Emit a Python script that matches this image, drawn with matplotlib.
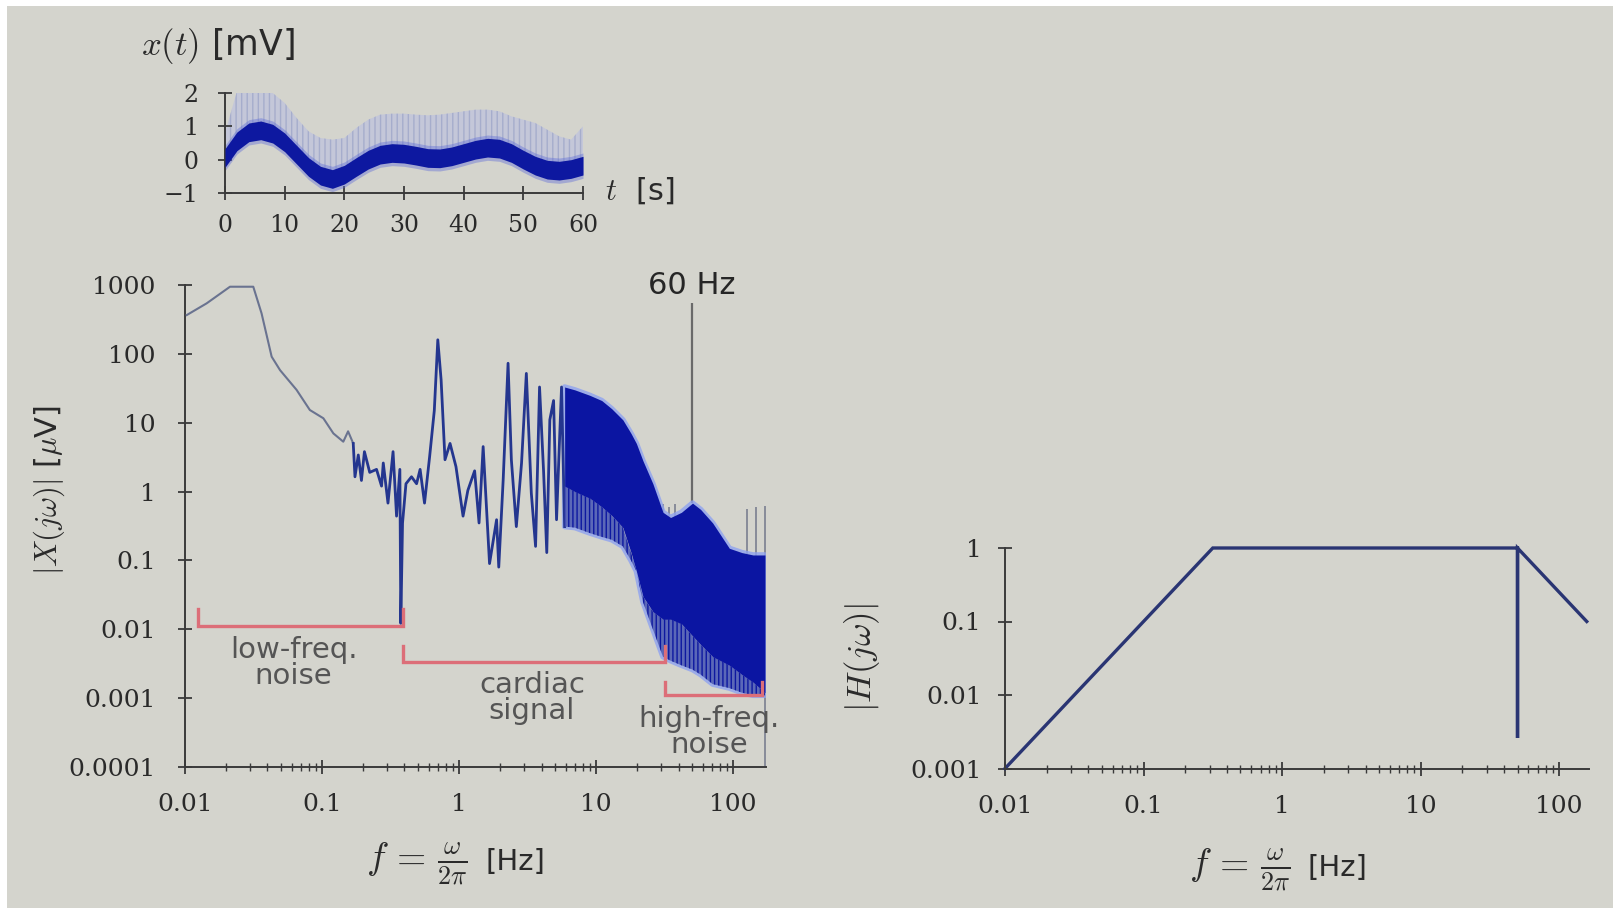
import numpy as np
import matplotlib
matplotlib.use('Agg')
import matplotlib.pyplot as plt
from matplotlib.ticker import LogLocator, NullFormatter, NullLocator
from matplotlib.patches import Rectangle

plt.rcParams['mathtext.fontset'] = 'cm'
plt.rcParams['font.family'] = ['DejaVu Sans']
plt.rcParams['hatch.linewidth'] = 1.0

# ---------------- data: ECG trace (top) ----------------
ecg_t = [0, 2, 4, 6, 8, 10, 12, 14, 16, 18, 20, 22, 24, 26, 28, 30,
         32, 34, 36, 38, 40, 42, 44, 46, 48, 50, 52, 54, 56, 58, 60]
ecg_base = [0.05, 0.55, 0.82, 0.88, 0.78, 0.52, 0.15, -0.22, -0.48, -0.58, -0.45,
            -0.22, 0.0, 0.15, 0.2, 0.18, 0.12, 0.05, 0.04, 0.1, 0.2, 0.3, 0.36,
            0.33, 0.2, 0.0, -0.18, -0.3, -0.33, -0.28, -0.18]
ecg_peak = [0.8, 2.05, 2.15, 2.15, 2.0, 1.7, 1.25, 0.85, 0.65, 0.6, 0.65, 0.95,
            1.2, 1.35, 1.38, 1.38, 1.35, 1.33, 1.35, 1.4, 1.45, 1.5, 1.5, 1.45,
            1.3, 1.2, 1.1, 0.9, 0.7, 0.6, 1.0]
t_ticks = [0, 10, 20, 30, 40, 50, 60]
x_ticks = [-1, 0, 1, 2]
x_ticklabels = ['\u22121', '0', '1', '2']

# ---------------- data: spectrum |X(jw)| ----------------
lf_f = [0.0103, 0.0144, 0.0213, 0.0315, 0.0362, 0.0429, 0.0494, 0.0652, 0.0815,
        0.1023, 0.121, 0.143, 0.155, 0.169]
lf_mag = [366, 542, 944, 944, 388, 91, 58, 30, 15.3, 11.6, 7.0, 5.3, 7.5, 5.0]

mid_f = [0.169, 0.174, 0.184, 0.194, 0.204, 0.223, 0.25, 0.272, 0.28, 0.303, 0.33,
         0.35, 0.37, 0.376, 0.387, 0.41, 0.45, 0.49, 0.52, 0.56, 0.61, 0.66, 0.70,
         0.74, 0.79, 0.86, 0.95, 1.07, 1.16, 1.3, 1.4, 1.5, 1.67, 1.88, 1.95, 2.1,
         2.28, 2.41, 2.62, 2.86, 3.10, 3.37, 3.62, 3.87, 4.14, 4.37, 4.6, 4.9, 5.15,
         5.6, 5.9]
mid_mag = [5.0, 1.64, 3.4, 1.45, 3.8, 1.9, 2.1, 1.2, 2.6, 0.68, 3.8,
           0.44, 2.1, 0.0122, 0.35, 1.3, 1.64, 1.3, 2.1, 0.68, 3.2, 15, 160,
           42, 2.9, 5.0, 2.3, 0.44, 1.04, 2.0, 0.35, 4.5, 0.09, 0.39, 0.08, 1.47,
           73, 2.9, 0.31, 2.6, 52, 0.95, 0.16, 33, 2.0, 0.13, 11, 21, 0.39,
           33, 0.31]

band_f = [5.9, 7, 9, 11, 13, 15.7, 18, 19.7, 22, 26, 30.8, 35, 42, 50.6, 58, 71,
          94, 116, 140, 171]
band_hi = [33, 30, 25, 21, 16, 11, 7, 5, 2.8, 1.3, 0.5, 0.42, 0.5, 0.68, 0.55,
           0.35, 0.15, 0.13, 0.12, 0.12]
band_core = [1.2, 1.0, 0.8, 0.6, 0.45, 0.3, 0.13, 0.07, 0.03, 0.018, 0.014, 0.014,
             0.012, 0.008, 0.006, 0.004, 0.003, 0.0022, 0.0017, 0.0012]
band_lo = [0.31, 0.3, 0.25, 0.22, 0.2, 0.16, 0.1, 0.07, 0.025, 0.01, 0.004, 0.0035,
           0.003, 0.0026, 0.0022, 0.0016, 0.0014, 0.0012, 0.0011, 0.0011]

spike_f = [31, 34, 38, 126, 147, 171]
spike_top = [0.65, 0.6, 0.65, 0.55, 0.6, 0.62]
spike_bot = [0.05, 0.05, 0.05, 0.01, 0.01, 1e-4]

notch_f = 50
notch_line = [0.68, 550]
notch_label = '60 Hz'
notch_label_y = 1000

bracket_left = [0.0125, 0.39, 32]
bracket_right = [0.39, 32, 164]
bracket_base = [0.011, 0.0033, 0.0011]
bracket_top = [0.02, 0.0057, 0.0017]
bracket_text = ['low-freq.\nnoise', 'cardiac\nsignal', 'high-freq.\nnoise']
bracket_text_f = [0.062, 3.4, 67]
bracket_text_y = [0.0032, 0.001, 0.00032]

spec_yticks = [1e-4, 1e-3, 1e-2, 1e-1, 1, 10, 100, 1000]
spec_yticklabels = ['0.0001', '0.001', '0.01', '0.1', '1', '10', '100', '1000']
freq_ticks = [0.01, 0.1, 1, 10, 100]
freq_ticklabels = ['0.01', '0.1', '1', '10', '100']

# ---------------- data: filter |H(jw)| ----------------
H_f = [0.01, 0.316, 50, 50, 50, 158]
H_mag = [0.001, 1, 1, 0.0026, 1, 0.1]
H_yticks = [0.001, 0.01, 0.1, 1]
H_yticklabels = ['0.001', '0.01', '0.1', '1']

# ---------------- figure ----------------
W, Hh = 1613, 910
fig = plt.figure(figsize=(W / 100, Hh / 100), dpi=100, facecolor='white')
fig.patches.append(Rectangle((7 / W, 2 / Hh), 1 - 7 / W, (904 - 2) / Hh,
                             transform=fig.transFigure, facecolor='#d4d4cd',
                             edgecolor='none', zorder=-10))

def ax_px(x0, y0, x1, y1):
    return fig.add_axes([x0 / W, 1 - y1 / Hh, (x1 - x0) / W, (y1 - y0) / Hh])

AXC = '#3a3a3a'
TXT = '#2a2a2a'
SERIF = 'DejaVu Serif'

def style(ax, xpad=14, ypad=12):
    ax.set_facecolor('none')
    for s in ['top', 'right']:
        ax.spines[s].set_visible(False)
    for s in ['left', 'bottom']:
        ax.spines[s].set_color(AXC)
        ax.spines[s].set_linewidth(1.4)
    ax.tick_params(which='both', direction='inout', colors=AXC, labelcolor=TXT)
    ax.tick_params(which='major', length=10, width=1.3)
    ax.tick_params(which='minor', length=6, width=1.0)
    ax.tick_params(axis='x', pad=xpad)
    ax.tick_params(axis='y', pad=ypad)

def flabel(x_right, y, size_math=27):
    fig.text(x_right / W, 1 - (y + 2) / Hh, r'$f\,=\,\frac{\omega}{2\pi}$',
             fontsize=size_math, color=TXT, ha='right', va='center')
    fig.text((x_right + 17) / W, 1 - y / Hh, '[Hz]', fontsize=21, color=TXT,
             ha='left', va='center')

# ---- top: x(t) ----
ax_t = ax_px(225, 93, 583, 193)
style(ax_t, xpad=10, ypad=14)
ax_t.fill_between(ecg_t, ecg_base, ecg_peak, facecolor='#c4c7d9', edgecolor='#a6adcc',
                  hatch='|||', linewidth=0, zorder=1)
ax_t.fill_between(ecg_t, np.array(ecg_base) - 0.38, np.array(ecg_base) + 0.38,
                  color='#5a68d8', alpha=0.4, linewidth=0, zorder=2)
ax_t.fill_between(ecg_t, np.array(ecg_base) - 0.28, np.array(ecg_base) + 0.28,
                  color='#0d18a0', linewidth=0, zorder=3)
ax_t.set_xlim(0, 60)
ax_t.set_ylim(-1, 2)
ax_t.set_xticks(t_ticks, [str(v) for v in t_ticks], fontfamily=SERIF, fontsize=17)
ax_t.set_yticks(x_ticks, x_ticklabels, fontfamily=SERIF, fontsize=17)

fig.text(141 / W, 1 - 46 / Hh, r'$x(t)$ [mV]', fontsize=25, color=TXT,
         ha='left', va='center')
fig.text(605 / W, 1 - 191 / Hh, r'$t$  [s]', fontsize=22, color=TXT,
         ha='left', va='center')

# ---- left: spectrum ----
ax_x = ax_px(185, 285, 766, 767)
style(ax_x, xpad=14, ypad=16)
ax_x.set_xscale('log')
ax_x.set_yscale('log')
ax_x.set_xlim(0.01, 174)
ax_x.set_ylim(1e-4, 1000)

ax_x.vlines(spike_f, spike_bot, spike_top, color='#7a7f90', lw=1.2, zorder=1)
ax_x.vlines(notch_f, notch_line[0], notch_line[1], color='#6a6a6a', lw=1.6, zorder=1)
ax_x.text(notch_f, notch_label_y, notch_label, ha='center', va='center',
          fontsize=22, color='#262626')

ax_x.plot(lf_f, lf_mag, color='#6a7390', lw=1.5, zorder=3)
ax_x.plot(mid_f, mid_mag, color='#24368f', lw=2.0, zorder=3)

ax_x.fill_between(band_f, band_lo, band_hi, facecolor='none', edgecolor='#8fa2f0',
                  linewidth=4, alpha=0.8, zorder=2)
ax_x.fill_between(band_f, band_lo, band_core, facecolor='#5b68b8', edgecolor='#0d18a0',
                  hatch='||||', linewidth=0, zorder=3)
ax_x.fill_between(band_f, band_core, band_hi, color='#0b15a2', linewidth=0, zorder=4)

RED = '#dc6e78'
for fl, fr, yb, yt in zip(bracket_left, bracket_right, bracket_base, bracket_top):
    ax_x.plot([fl, fl, fr, fr], [yt, yb, yb, yt], color=RED, lw=2.4,
              solid_joinstyle='miter', zorder=5)
for s, fx, fy in zip(bracket_text, bracket_text_f, bracket_text_y):
    ax_x.text(fx, fy, s, ha='center', va='center', fontsize=21, color='#555555',
              linespacing=0.9, zorder=6)

ax_x.set_xticks(freq_ticks, freq_ticklabels, fontfamily=SERIF, fontsize=18)
ax_x.xaxis.set_minor_locator(LogLocator(base=10, subs=np.arange(2, 10), numticks=30))
ax_x.xaxis.set_minor_formatter(NullFormatter())
ax_x.set_yticks(spec_yticks, spec_yticklabels, fontfamily=SERIF, fontsize=18)
ax_x.yaxis.set_minor_locator(NullLocator())

fig.text(49 / W, 1 - 490 / Hh, r'$|X(j\omega)|$ [$\mu$V]', rotation=90, fontsize=22,
         color=TXT, ha='center', va='center')
flabel(468, 862)

# ---- right: filter ----
ax_h = ax_px(1005, 548, 1589, 768.5)
style(ax_h, xpad=14, ypad=12)
ax_h.set_xscale('log')
ax_h.set_yscale('log')
ax_h.set_xlim(0.01, 164)
ax_h.set_ylim(0.001, 1)
ax_h.plot(H_f, H_mag, color='#2a3573', lw=2.4, solid_joinstyle='miter', clip_on=False)
ax_h.set_xticks(freq_ticks, freq_ticklabels, fontfamily=SERIF, fontsize=18)
ax_h.xaxis.set_minor_locator(LogLocator(base=10, subs=np.arange(2, 10), numticks=30))
ax_h.xaxis.set_minor_formatter(NullFormatter())
ax_h.set_yticks(H_yticks, H_yticklabels, fontfamily=SERIF, fontsize=18)
ax_h.yaxis.set_minor_locator(NullLocator())

fig.text(862 / W, 1 - 658 / Hh, r'$|H(j\omega)|$', rotation=90, fontsize=25,
         color=TXT, ha='center', va='center')
flabel(1291, 868)

fig.savefig('out.png', dpi=100, facecolor=fig.get_facecolor())
